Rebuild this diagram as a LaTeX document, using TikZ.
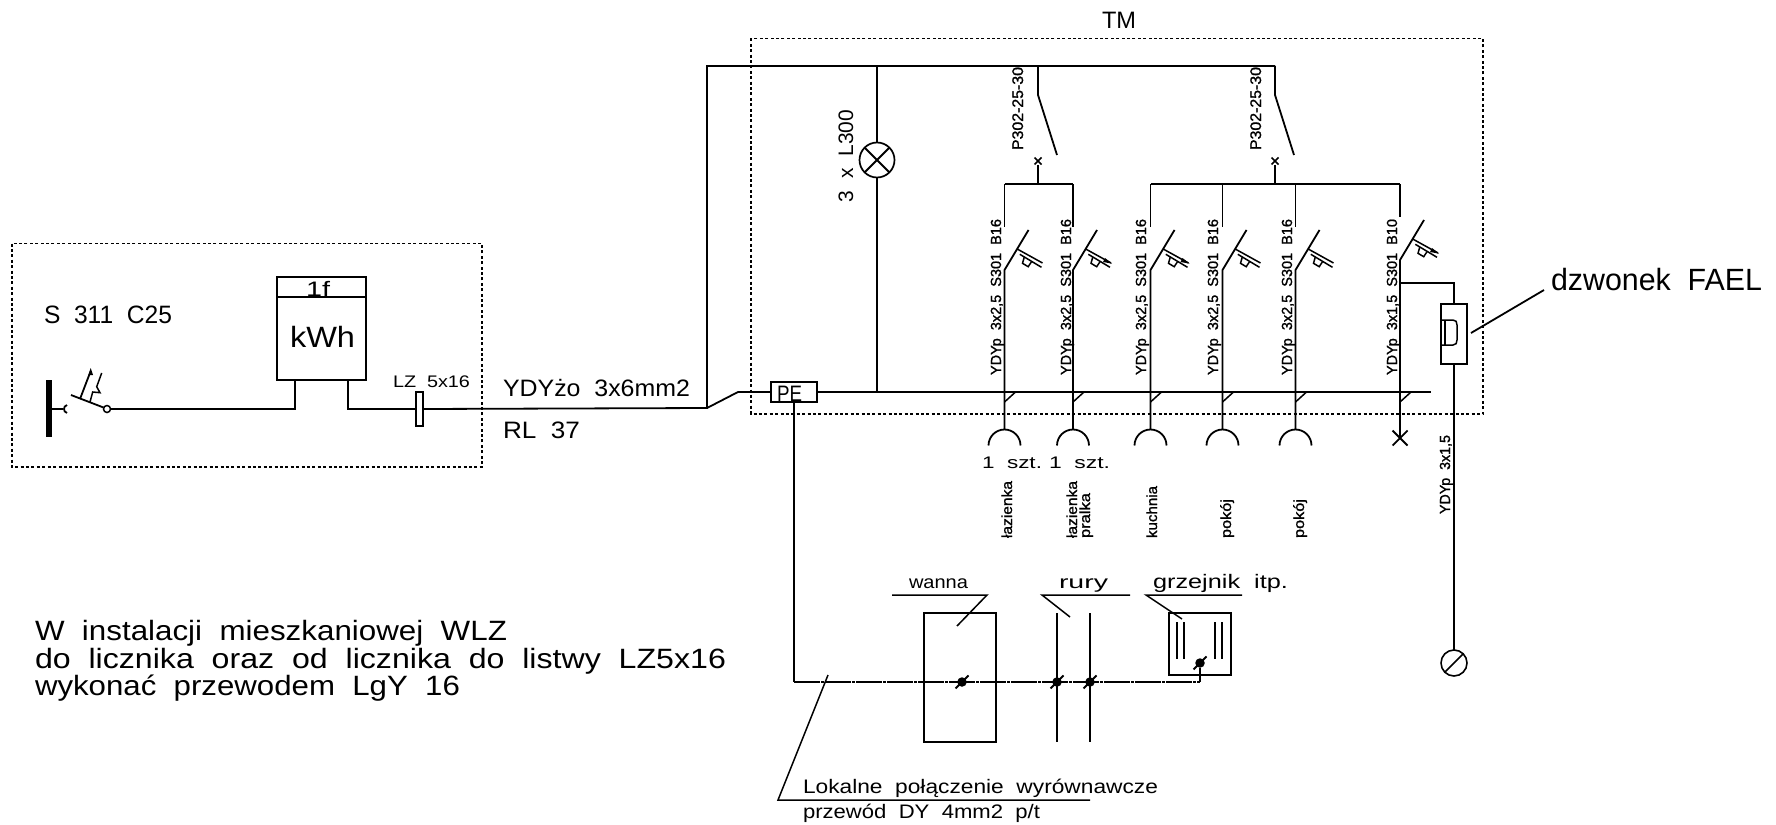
\documentclass[tikz,border=0pt]{standalone}
\usepackage{fontspec}
\newfontfamily\cadfont{Liberation Sans}
\newfontfamily\cadheavy[FakeBold=1.2]{Liberation Sans}
\newsavebox\cadbox
\newcommand\cad[7]{%
  \node[cadtext,rotate=#6] (#1) at (#2,#3) {%
    \pgfmathsetmacro\cadfs{#5/0.716}%
    \sbox\cadbox{\fontsize{\cadfs pt}{\cadfs pt}\selectfont\cadfont #7}%
    \pgfmathsetmacro\cadsx{#4/\the\wd\cadbox}%
    \scalebox{\cadsx}[1]{\usebox\cadbox}};%
}
\newcommand\cadb[7]{%
  \node[cadtext,rotate=#6] (#1) at (#2,#3) {%
    \pgfmathsetmacro\cadfs{#5/0.716}%
    \sbox\cadbox{\fontsize{\cadfs pt}{\cadfs pt}\selectfont\cadheavy #7}%
    \pgfmathsetmacro\cadsx{#4/\the\wd\cadbox}%
    \scalebox{\cadsx}[1]{\usebox\cadbox}};%
}
\tikzset{
  cadtext/.style={anchor=base west,inner sep=0pt,outer sep=0pt},
  wire/.style={line width=1.8pt,line join=miter},
  thin wire/.style={line width=1.5pt},
  frame/.style={line width=1.3pt,dash pattern=on 3pt off 2.4pt},
  boxnode/.style={draw,line width=1.6pt,inner sep=0pt,outer sep=0pt,fill=white},
  chain/.style={line width=1.8pt,dash pattern=on 26pt off 1pt on 3pt off 1pt},
  dot/.style={circle,fill=black,inner sep=0pt,minimum size=9.5pt},
}
\newcommand\bondmark[1]{%
  \draw[line width=2pt] ($(#1)+(-6.5,6.5)$) -- ($(#1)+(6.5,-6.5)$);
}
\usetikzlibrary{calc}
\begin{document}
\begin{tikzpicture}[x=1pt,y=-1pt]
\useasboundingbox (0,0) rectangle (1776,824);
\fill[white] (0,0) rectangle (1776,824);

% frames
\draw[frame] (12,243.5) rectangle (482,467);
\draw[frame] (751,38.5) rectangle (1483,414);
\cad{tm}{1102}{29}{34}{17}{0}{TM}

% left part
\draw[line width=6pt] (49,380) -- (49,437);
\coordinate (incomer) at (49,409);
\coordinate (stub) at (63,409);
\draw[wire] (incomer) -- (stub);
\draw[wire] (67,405) .. controls (63,406) and (63,412) .. (67,413);
\draw[wire] (71,395) -- (103.5,407.5);
\node[draw,circle,line width=1.5pt,minimum size=7pt,inner sep=0pt,outer sep=0pt] (qs) at (107,409) {};
\draw[wire] (80,399) -- (90.7,371);
\fill (90.7,368) -- (88.5,375) -- (93,375) -- cycle;
\draw[thin wire] (90,402) -- (92.7,392) -- (100,392.7) -- (96.7,386.7) -- (101.7,373);

\node[boxnode,minimum width=89pt,minimum height=103pt] (meter) at (321.5,328.5) {};
\draw[wire] (277,297) -- (366,297);
\coordinate (m1) at (295,409);
\coordinate (m2) at (348,409);
\draw[wire] (qs.east) -- (m1) -- (m1 |- meter.south);
\node[boxnode,minimum width=7pt,minimum height=34pt] (lz) at (419.5,409) {};
\draw[wire] (m2 |- meter.south) -- (m2) -- (lz.west);
\coordinate (riser) at (707,408);
\coordinate (topleft) at (707,66);
\coordinate (topright) at (1275,66);
\draw[wire] (lz.east) -- (riser) -- (topleft) -- (topright);
\node[boxnode,minimum width=46pt,minimum height=20pt] (pe) at (794,392) {};
\coordinate (kink) at (738,392);
\draw[wire] (riser) -- (kink) -- (pe.west);
\coordinate (busend) at (1431,392);
\draw[wire] (pe.east) -- (busend);

% lamp
\node[draw,circle,line width=1.7pt,minimum size=35pt,inner sep=0pt,outer sep=0pt] (lamp) at (877,160) {};
\draw[wire] (lamp.45) -- (lamp.225) (lamp.135) -- (lamp.315);
\coordinate (lamptop) at (877,66);
\coordinate (lampbot) at (877,392);
\draw[wire] (lamptop) -- (lamp.north) (lamp.south) -- (lampbot);

% RCDs
\foreach \cx/\nm in {1038/rcdA,1275/rcdB}{
  \coordinate (\nm top) at (\cx,66);
  \coordinate (\nm piv) at (\cx,95);
  \coordinate (\nm end) at ($(\nm piv)+(19,60)$);
  \coordinate (\nm low) at (\cx,165);
  \coordinate (\nm bar) at (\cx,184);
  \draw[wire] (\nm top) -- (\nm piv) -- (\nm end);
  \draw[wire] (\nm low) -- (\nm bar);
  \draw[line width=1.7pt] (\cx-3.5,157.5) -- (\cx+3.5,164.5) (\cx+3.5,157.5) -- (\cx-3.5,164.5);
}
\coordinate (barA1) at (1004.5,184);
\coordinate (barA2) at (1073,184);
\coordinate (barB1) at (1150.5,184);
\coordinate (barB2) at (1400,184);
\draw[wire] (barA1) -- (barA2);
\draw[wire] (barB1) -- (barB2);

% five socket branches
\foreach \bx/\tipped [count=\i] in {1004.5/0,1073/1,1150.5/1,1222.5/0,1295.5/0}{
  \coordinate (brT\i) at (\bx,184);
  \coordinate (brU\i) at (\bx,227);
  \coordinate (brK\i) at (\bx,270);
  \coordinate (brS\i) at (\bx,429);
  \draw[wire] (brT\i) -- (brU\i);
  \draw[wire] (\bx+24,230) -- (brK\i) -- (brS\i);
  \begin{scope}[shift={(\bx,0)}]
    \draw[thin wire] (12.7,249) -- (38,263);
    \draw[thin wire] (15.3,254.3) -- (37,267.3);
    \draw[thin wire] (19.7,257.3) -- (18,263.3) -- (23.7,266.7) -- (27,261.7);
    \ifnum\tipped=1 \fill (39,263.6) -- (32,258) -- (30,262) -- cycle; \fi
    \draw[thin wire] (0,402) -- (11,392);
    \draw[wire] (-16,445.5) arc[start angle=180,end angle=360,radius=16];
  \end{scope}
}

% sixth branch
\coordinate (brT6) at (1400,184);
\coordinate (brU6) at (1400,217);
\coordinate (brK6) at (1400,260);
\coordinate (brX6) at (1400,438);
\draw[wire] (brT6) -- (brU6);
\draw[wire] (1424,220) -- (brK6) -- (brX6);
\begin{scope}[shift={(1400,-10)}]
  \draw[thin wire] (12.7,249) -- (38,263);
  \draw[thin wire] (15.3,254.3) -- (37,267.3);
  \draw[thin wire] (19.7,257.3) -- (18,263.3) -- (23.7,266.7) -- (27,261.7);
  \fill (39,263.6) -- (32,258) -- (30,262) -- cycle;
\end{scope}
\draw[thin wire] (1400,402) -- (1411,392);
\draw[wire] (1392.5,430.5) -- (1407.5,445.5) (1407.5,430.5) -- (1392.5,445.5);

% bell
\node[boxnode,minimum width=26pt,minimum height=60pt] (bell) at (1454,334) {};
\coordinate (tap) at (1400,283);
\coordinate (tapc) at (1454,283);
\draw[thin wire] (tap) -- (tapc) -- (bell.north);
\draw[thin wire] (1441,320) -- (1453,320) .. controls (1456,320) and (1457,322) .. (1457,325) -- (1457,340) .. controls (1457,343) and (1456,345) .. (1453,345) -- (1441,345);
\draw[thin wire] (1445,320) -- (1445,345);
\node[draw,circle,line width=1.6pt,minimum size=26pt,inner sep=0pt,outer sep=0pt] (earth) at (1454,663) {};
\draw[wire] (bell.south) -- (earth.north);
\draw[thin wire] (earth.225) -- (earth.45);
\coordinate (fael) at (1544,290);
\coordinate (faelb) at (1471,333);
\draw[wire] (faelb) -- (fael);

% equipotential
\coordinate (eq1) at (794,682);
\coordinate (eq2) at (1200,682);
\node[dot] (d4) at (1200,663) {};
\node[boxnode,fill=none,minimum width=72pt,minimum height=129pt] (wannabox) at (960,677.5) {};
\draw[wire] (pe.south) -- (eq1);
\draw[chain] (eq1) -- (eq2);
\draw[wire] (eq2) -- (d4.south);
\node[dot] (d1) at (962,682) {};
\node[dot] (d2) at (1057,682) {};
\node[dot] (d3) at (1090,682) {};
\bondmark{d1}\bondmark{d2}\bondmark{d3}\bondmark{d4}
\draw[wire] (1057,613) -- (1057,742) (1090,613) -- (1090,742);
\node[boxnode,fill=none,minimum width=62pt,minimum height=62pt] (rad) at (1200,644) {};
\draw[thin wire] (1177,622) -- (1177,659) (1184,622) -- (1184,659) (1215,622) -- (1215,659) (1222,622) -- (1222,659);

% leaders
\draw[thin wire] (892,595) -- (987,595) -- (957,626);
\draw[thin wire] (1130,595) -- (1042,595) -- (1070,617);
\draw[thin wire] (1242,595) -- (1146,595) -- (1182,619);
\draw[thin wire] (828,675) -- (778,800) -- (1090,800);

% texts
\cad{t1}{44}{323}{128}{18}{0}{S\ \ 311\ \ C25}
\cad{t2}{306}{296}{24}{15}{0}{1f}
\cad{t3}{290}{347}{65}{21}{0}{kWh}
\cad{t4}{393}{387}{77}{12}{0}{LZ\ \ 5x16}
\cad{t5}{503}{396}{187}{17}{0}{YDYżo\ \ 3x6mm2}
\cad{t6}{503}{438}{77}{17}{0}{RL\ \ 37}
\cad{t7}{777}{401}{25}{16}{0}{PE}
\cad{t8}{853}{202}{92}{15}{90}{3\ \ x\ \ L300}
\cadb{t9}{1023}{150}{83}{11}{90}{P302-25-30}
\cadb{t10}{1261}{150}{83}{11}{90}{P302-25-30}
\foreach \tx [count=\i] in {1001,1071,1146,1218,1292}{
  \cadb{br\i}{\tx}{375}{156}{10.5}{90}{YDYp\ \ 3x2,5\ \ S301\ \ B16}
}
\cadb{br6}{1397}{375}{156}{10.5}{90}{YDYp\ \ 3x1,5\ \ S301\ \ B10}
\cadb{t11}{1450}{514}{79}{10.5}{90}{YDYp\ \ 3x1,5}
\cad{t12}{982}{468}{60}{12}{0}{1\ \ szt.}
\cad{t13}{1049}{468}{61}{12}{0}{1\ \ szt.}
\cadb{t14}{1012}{538}{57}{10.5}{90}{łazienka}
\cadb{t15}{1077}{538}{57}{10.5}{90}{łazienka}
\cadb{t16}{1090}{538}{45}{10.5}{90}{pralka}
\cadb{t17}{1157}{538}{52}{10.5}{90}{kuchnia}
\cadb{t18}{1231}{538}{39}{10.5}{90}{pokój}
\cadb{t19}{1304}{538}{39}{10.5}{90}{pokój}
\cad{t20}{909}{588}{59}{13}{0}{wanna}
\cad{t21}{1059}{588}{49}{13}{0}{rury}
\cad{t22}{1153}{588}{135}{14}{0}{grzejnik\ \ itp.}
\cad{t23}{803}{793}{355}{14}{0}{Lokalne\ \ połączenie\ \ wyrównawcze}
\cad{t24}{803}{818}{237}{14}{0}{przewód\ \ DY\ \ 4mm2\ \ p/t}
\cad{t25}{1551}{290}{211}{22}{0}{dzwonek\ \ FAEL}
\cad{t26}{35}{640}{472}{20}{0}{W\ \ instalacji\ \ mieszkaniowej\ \ WLZ}
\cad{t27}{35}{668}{691}{20}{0}{do\ \ licznika\ \ oraz\ \ od\ \ licznika\ \ do\ \ listwy\ \ LZ5x16}
\cad{t28}{35}{695}{425}{20}{0}{wykonać\ \ przewodem\ \ LgY\ \ 16}
\end{tikzpicture}
\end{document}
